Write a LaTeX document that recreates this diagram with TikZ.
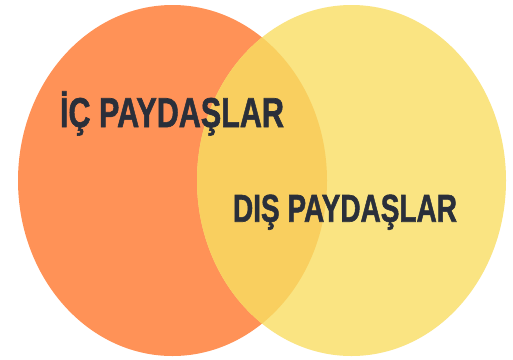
\documentclass[tikz,border=0pt]{standalone}
\usepackage{fontspec}
\setmainfont{Liberation Sans}
\newfontfamily\heavyfont[FakeBold=1.6]{Liberation Sans Bold}
\usepackage{graphicx}
\definecolor{orangeL}{HTML}{FF9257}
\definecolor{yellowR}{HTML}{FAE482}
\definecolor{overlapC}{HTML}{F9CF5F}
\definecolor{textC}{HTML}{2A2F3A}
\tikzset{
  label/.style={inner sep=0pt, outer sep=0pt, anchor=base west, text=textC, font=\heavyfont},
}
\begin{document}
\begin{tikzpicture}[x=1pt,y=-1pt]
\useasboundingbox (0,0) rectangle (513,359);
\fill[white] (0,0) rectangle (513,359);
\fill[orangeL] (172.5,180.5) ellipse [x radius=154.5pt, y radius=175.5pt];
\fill[yellowR] (351.5,180.5) ellipse [x radius=154.5pt, y radius=175.5pt];
\begin{scope}
\clip (172.5,180.5) ellipse [x radius=154.5pt, y radius=175.5pt];
\fill[overlapC] (351.5,180.5) ellipse [x radius=154.5pt, y radius=175.5pt];
\end{scope}
\node[label] (ic) at (60,127) {\resizebox{224pt}{\height}{\fontsize{41.7pt}{44pt}\selectfont İÇ PAYDAŞLAR}};
\node[label] (dis) at (233,221.7) {\resizebox{224pt}{\height}{\fontsize{38.8pt}{41pt}\selectfont DIŞ PAYDAŞLAR}};
\end{tikzpicture}
\end{document}
